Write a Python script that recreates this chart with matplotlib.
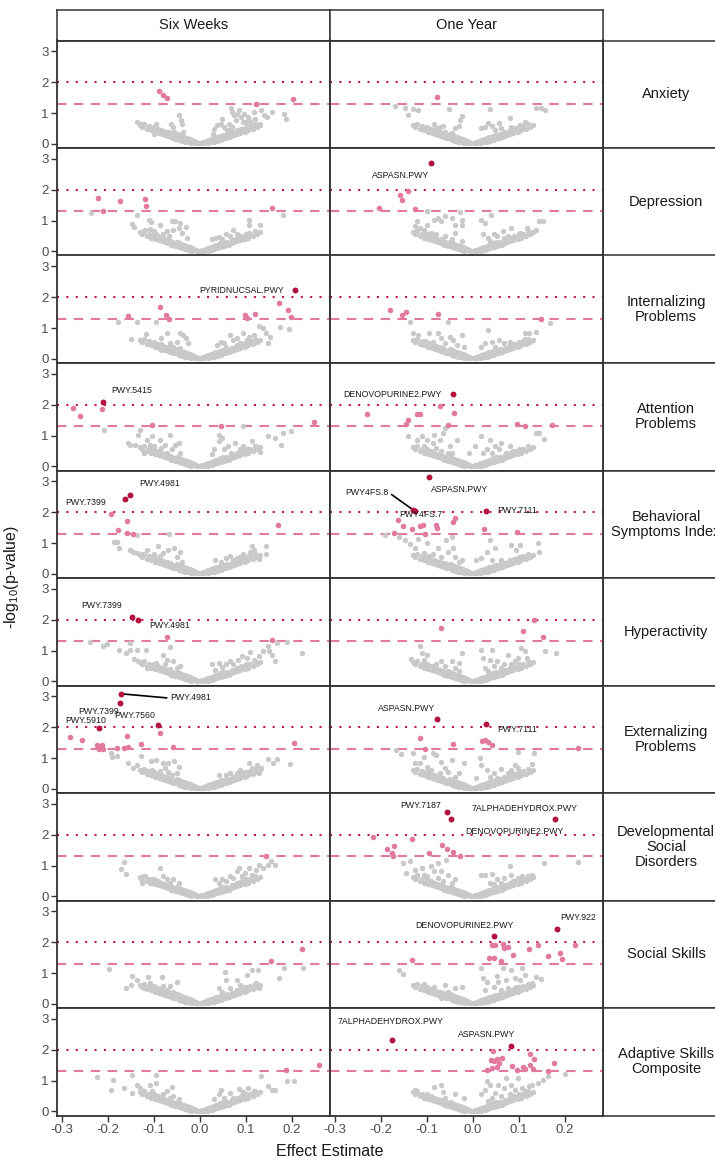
import matplotlib.pyplot as plt
import numpy as np

plt.rcParams['font.family'] = ['Liberation Sans', 'DejaVu Sans']
plt.rcParams['mathtext.default'] = 'regular'

OUTCOMES = ['Anxiety', 'Depression', 'Internalizing\nProblems', 'Attention\nProblems',
            'Behavioral\nSymptoms Index', 'Hyperactivity', 'Externalizing\nProblems',
            'Developmental\nSocial\nDisorders', 'Social Skills', 'Adaptive Skills\nComposite']
TIMEPOINTS = ['Six Weeks', 'One Year']
X_TICKS = [-0.3, -0.2, -0.1, 0.0, 0.1, 0.2]
Y_TICKS = [0, 1, 2, 3]
P_CUTS = [0.05, 0.01]

# dense bottom of the V, common to every panel
V_CORE = [(-0.065, 0.34), (-0.06, 0.30), (-0.055, 0.26), (-0.05, 0.32), (-0.048, 0.22), (-0.045, 0.28),
          (-0.042, 0.18), (-0.04, 0.25), (-0.036, 0.16), (-0.034, 0.22), (-0.03, 0.14), (-0.028, 0.19),
          (-0.025, 0.10), (-0.022, 0.15), (-0.02, 0.08), (-0.017, 0.12), (-0.015, 0.05), (-0.012, 0.09),
          (-0.01, 0.04), (-0.007, 0.06), (-0.005, 0.02), (-0.003, 0.03), (0.003, 0.02), (0.005, 0.04),
          (0.008, 0.06), (0.01, 0.03), (0.013, 0.09), (0.015, 0.06), (0.018, 0.12), (0.02, 0.08),
          (0.024, 0.15), (0.026, 0.10), (0.03, 0.19), (0.033, 0.13), (0.036, 0.22), (0.04, 0.17),
          (0.043, 0.27), (0.046, 0.20), (0.05, 0.30), (0.055, 0.24), (0.06, 0.32), (0.065, 0.28),
          (-0.07, 0.38), (0.07, 0.36), (-0.08, 0.42), (0.08, 0.45), (-0.09, 0.50), (0.09, 0.50),
          (-0.13, 0.62), (-0.125, 0.55), (-0.12, 0.66), (-0.115, 0.50), (-0.11, 0.58), (-0.105, 0.45),
          (-0.10, 0.55), (-0.098, 0.40), (-0.093, 0.48), (-0.088, 0.36), (-0.085, 0.45), (-0.082, 0.33),
          (-0.078, 0.40), (-0.075, 0.30), (-0.072, 0.36), (-0.068, 0.27), (-0.063, 0.22), (-0.058, 0.20),
          (-0.053, 0.18), (-0.046, 0.13), (-0.038, 0.10), (-0.032, 0.07), (-0.026, 0.05), (-0.018, 0.03),
          (0.018, 0.03), (0.026, 0.05), (0.032, 0.07), (0.038, 0.10), (0.046, 0.13), (0.053, 0.18),
          (0.058, 0.20), (0.063, 0.22), (0.068, 0.27), (0.072, 0.36), (0.075, 0.30), (0.078, 0.40),
          (0.082, 0.33), (0.085, 0.45), (0.088, 0.36), (0.093, 0.48), (0.098, 0.40), (0.10, 0.55),
          (0.105, 0.45), (0.11, 0.58), (0.115, 0.50), (0.12, 0.66), (0.125, 0.55), (0.13, 0.62)]

# ---- Anxiety
ANX_W6_GREY = [(-0.136, 0.71), (-0.128, 0.66), (-0.094, 0.64), (-0.097, 0.55), (-0.095, 0.39), (-0.099, 0.33),
               (-0.088, 0.39), (-0.081, 0.42), (-0.078, 0.33), (-0.074, 0.28), (-0.067, 0.39), (-0.062, 0.64),
               (-0.059, 0.55), (-0.056, 0.40), (-0.052, 0.28), (-0.054, 0.17), (-0.045, 0.93), (-0.041, 0.79),
               (-0.038, 0.66), (-0.036, 0.39), (0.028, 0.33), (0.031, 0.49), (0.038, 0.60), (0.046, 0.66),
               (0.049, 0.82), (0.053, 0.55), (0.060, 0.44), (0.064, 0.66), (0.067, 1.15), (0.071, 1.04),
               (0.075, 0.93), (0.078, 0.77), (0.082, 0.98), (0.086, 1.09), (0.089, 0.87), (0.093, 0.71),
               (0.096, 0.98), (0.104, 0.87), (0.107, 0.55), (0.114, 0.60), (0.118, 1.04), (0.125, 1.28),
               (0.133, 1.09), (0.140, 0.93), (0.147, 0.87), (0.158, 1.04), (0.183, 0.98), (0.187, 0.82),
               (0.075, 0.40), (0.085, 0.35), (0.12, 0.80), (0.13, 0.65), (0.095, 0.45), (0.10, 0.70),
               (0.11, 0.75), (0.065, 0.45), (0.07, 0.55)]
ANX_W6_SIG = [(-0.088, 1.72), (-0.080, 1.59), (-0.072, 1.49), (0.122, 1.31), (0.202, 1.45)]
ANX_W6_TOP = []
ANX_Y1_GREY = [(-0.169, 1.24), (-0.148, 1.15), (-0.141, 0.94), (-0.129, 1.12), (-0.118, 1.11), (-0.051, 1.13),
               (0.037, 1.12), (-0.023, 0.91), (-0.027, 0.78), (-0.084, 0.64), (-0.080, 0.51), (-0.072, 0.56),
               (-0.065, 0.59), (-0.061, 0.40), (-0.046, 0.34), (-0.038, 0.51), (-0.030, 0.59), (0.019, 0.51),
               (0.027, 0.56), (0.034, 0.67), (0.042, 0.59), (0.049, 0.45), (0.057, 0.67), (0.061, 0.51),
               (0.068, 0.40), (0.080, 0.83), (0.084, 0.56), (0.095, 0.51), (0.103, 0.61), (0.114, 0.70),
               (0.137, 1.17), (0.148, 1.15), (0.158, 1.11), (0.076, 0.34), (-0.068, 0.34)]
ANX_Y1_SIG = [(-0.078, 1.51)]
ANX_Y1_TOP = []

# ---- Depression
DEP_W6_GREY = [(-0.236, 1.25), (0.181, 1.18), (-0.148, 0.89), (-0.142, 0.79), (-0.137, 1.19), (-0.125, 0.62),
               (-0.118, 0.68), (-0.110, 1.03), (-0.105, 0.95), (-0.109, 0.73), (-0.099, 0.66), (-0.095, 0.55),
               (-0.087, 0.87), (-0.080, 0.55), (-0.072, 0.66), (-0.066, 0.50), (-0.061, 1.00), (-0.053, 1.00),
               (-0.057, 0.71), (-0.046, 0.76), (-0.042, 0.93), (-0.038, 0.60), (-0.030, 0.79), (-0.027, 0.44),
               (0.027, 0.39), (0.034, 0.44), (0.042, 0.46), (0.049, 0.39), (0.057, 0.55), (0.065, 0.50),
               (0.072, 0.71), (0.080, 0.55), (0.087, 0.44), (0.091, 0.39), (0.106, 1.03), (0.108, 0.87),
               (0.107, 0.60), (0.130, 0.87), (-0.095, 0.44), (-0.080, 0.39), (-0.065, 0.33), (-0.049, 0.28)]
DEP_W6_SIG = [(-0.222, 1.73), (-0.211, 1.32), (-0.173, 1.64), (-0.119, 1.71), (-0.117, 1.47), (0.157, 1.42)]
DEP_W6_TOP = []
DEP_Y1_GREY = [(-0.099, 1.30), (-0.027, 1.27), (0.040, 1.17), (-0.122, 1.00), (-0.125, 0.82), (-0.114, 0.76),
               (-0.106, 0.71), (-0.099, 0.87), (-0.084, 1.03), (-0.076, 1.09), (-0.068, 0.98), (-0.061, 1.14),
               (-0.046, 1.09), (-0.038, 0.87), (-0.023, 1.03), (-0.023, 0.87), (-0.091, 0.60), (-0.080, 0.55),
               (-0.061, 0.50), (-0.038, 0.60), (-0.046, 0.39), (-0.023, 0.33), (0.019, 1.03), (0.027, 0.93),
               (0.023, 0.55), (0.034, 0.44), (0.046, 0.55), (0.053, 0.50), (0.065, 0.66), (0.068, 0.44),
               (0.076, 0.50), (0.084, 0.76), (0.087, 0.39), (0.103, 0.60), (0.118, 0.76), (0.137, 0.71),
               (0.144, 0.98), (0.152, 0.98), (0.038, 0.33), (0.061, 0.28), (-0.068, 0.39)]
DEP_Y1_SIG = [(-0.157, 1.82), (-0.141, 1.95), (-0.154, 1.67), (-0.204, 1.40), (-0.125, 1.36)]
DEP_Y1_TOP = [('ASPASN.PWY', -0.090, 2.85)]

# ---- Internalizing Problems
INT_W6_GREY = [(-0.177, 1.21), (-0.137, 1.21), (-0.095, 1.21), (-0.150, 0.64), (-0.116, 0.80), (-0.084, 0.67),
               (-0.084, 0.48), (-0.084, 0.29), (-0.072, 0.83), (-0.065, 0.51), (-0.057, 0.40), (-0.042, 0.83),
               (-0.036, 0.78), (-0.030, 0.67), (-0.025, 0.51), (0.038, 0.45), (0.046, 0.56), (0.053, 0.51),
               (0.065, 0.78), (0.072, 0.61), (0.080, 0.67), (0.087, 0.51), (0.095, 0.83), (0.103, 0.61),
               (0.106, 0.72), (0.110, 0.59), (0.118, 0.78), (0.129, 1.07), (0.137, 0.99), (0.144, 0.83),
               (0.148, 0.53), (0.152, 0.72), (0.175, 1.04), (0.195, 0.97), (-0.049, 0.56), (-0.042, 0.34),
               (-0.065, 0.24), (0.057, 0.40), (0.072, 0.34)]
INT_W6_SIG = [(-0.086, 1.69), (-0.074, 1.42), (-0.067, 1.31), (-0.156, 1.39), (0.099, 1.41), (0.103, 1.33),
              (0.120, 1.47), (0.173, 1.80), (0.192, 1.58), (0.199, 1.37)]
INT_W6_TOP = [('PYRIDNUCSAL.PWY', 0.206, 2.23)]
INT_Y1_GREY = [(-0.137, 1.21), (-0.129, 0.83), (-0.118, 0.78), (-0.103, 0.59), (-0.095, 0.83), (-0.087, 0.56),
               (-0.076, 0.83), (-0.068, 0.67), (-0.061, 0.51), (-0.053, 1.21), (-0.049, 0.72), (-0.042, 0.61),
               (-0.034, 0.45), (-0.023, 0.78), (-0.019, 0.40), (0.019, 0.40), (0.027, 0.51), (0.034, 0.94),
               (0.042, 0.56), (0.049, 0.40), (0.057, 0.61), (0.068, 0.53), (0.080, 0.56), (0.084, 0.45),
               (0.114, 0.83), (0.114, 0.64), (0.123, 0.85), (0.137, 0.88), (0.167, 1.17)]
INT_Y1_SIG = [(-0.180, 1.58), (-0.154, 1.44), (-0.144, 1.51), (-0.076, 1.46), (0.148, 1.30)]
INT_Y1_TOP = []

# ---- Attention Problems
ATT_W6_GREY = [(-0.208, 1.19), (-0.156, 0.76), (-0.152, 0.68), (-0.141, 0.71), (-0.129, 1.19), (-0.133, 1.03),
               (-0.125, 0.55), (-0.122, 0.44), (-0.114, 0.87), (-0.109, 0.71), (-0.103, 0.98), (-0.099, 0.66),
               (-0.095, 0.50), (-0.087, 0.87), (-0.084, 0.60), (-0.076, 0.71), (-0.072, 0.44), (-0.065, 1.03),
               (-0.061, 0.55), (-0.053, 0.71), (-0.046, 0.76), (-0.042, 0.44), (0.027, 0.39), (0.030, 0.55),
               (0.042, 1.03), (0.042, 0.82), (0.049, 0.93), (0.053, 0.55), (0.061, 0.66), (0.068, 0.44),
               (0.076, 0.76), (0.087, 0.55), (0.095, 1.30), (0.095, 0.66), (0.106, 0.55), (0.114, 0.82),
               (0.122, 0.66), (0.132, 0.46), (0.148, 1.00), (0.163, 0.93), (0.176, 0.71), (0.181, 1.09),
               (0.198, 1.14)]
ATT_W6_SIG = [(-0.275, 1.89), (-0.212, 1.86), (-0.259, 1.63), (-0.104, 1.35), (0.046, 1.30), (0.249, 1.44)]
ATT_W6_TOP = [('PWY.5415', -0.211, 2.09)]
ATT_Y1_GREY = [(-0.141, 0.98), (-0.122, 0.87), (-0.110, 0.98), (-0.106, 0.66), (-0.099, 0.87), (-0.087, 0.76),
               (-0.084, 1.03), (-0.080, 0.60), (-0.072, 0.87), (-0.068, 0.50), (-0.065, 1.09), (-0.061, 1.25),
               (-0.049, 0.66), (-0.046, 0.44), (-0.034, 0.87), (0.019, 0.98), (0.023, 0.44), (0.030, 0.55),
               (0.038, 0.87), (0.042, 0.44), (0.049, 0.66), (0.057, 0.55), (0.061, 0.76), (0.072, 0.44),
               (0.080, 0.66), (0.084, 0.39), (0.087, 0.50), (0.137, 1.09), (0.144, 1.09), (0.154, 0.90),
               (0.004, 0.66), (-0.008, 0.44), (-0.053, 0.44)]
ATT_Y1_SIG = [(-0.230, 1.69), (-0.141, 1.49), (-0.146, 1.36), (-0.122, 1.71), (-0.114, 1.71), (-0.071, 1.95),
              (-0.040, 1.73), (-0.053, 1.35), (0.096, 1.38), (0.113, 1.31), (0.173, 1.33)]
ATT_Y1_TOP = [('DENOVOPURINE2.PWY', -0.043, 2.36)]

# ---- Behavioral Symptoms Index
BSI_W6_GREY = [(-0.186, 1.02), (-0.179, 1.02), (-0.175, 0.83), (-0.137, 1.26), (-0.152, 0.78), (-0.144, 0.72),
               (-0.137, 0.67), (-0.125, 0.64), (-0.114, 0.78), (-0.110, 0.59), (-0.099, 0.64), (-0.091, 0.91),
               (-0.087, 0.59), (-0.080, 0.67), (-0.068, 0.78), (-0.066, 1.28), (-0.056, 0.83), (-0.049, 0.56),
               (-0.042, 0.72), (-0.038, 0.40), (0.046, 0.40), (0.057, 0.51), (0.065, 0.59), (0.072, 0.45),
               (0.080, 0.53), (0.087, 0.56), (0.095, 0.64), (0.103, 0.56), (0.110, 0.72), (0.114, 0.89),
               (0.118, 0.78), (0.129, 0.48), (0.144, 0.91), (0.144, 0.64), (-0.080, 0.40), (-0.065, 0.34),
               (-0.049, 0.29), (0.034, 0.45), (0.049, 0.29)]
BSI_W6_SIG = [(-0.192, 1.94), (-0.159, 1.72), (-0.177, 1.42), (-0.157, 1.33), (-0.146, 1.31), (0.170, 1.58)]
BSI_W6_TOP = [('PWY.7399', -0.162, 2.44), ('PWY.4981', -0.152, 2.57)]
BSI_Y1_GREY = [(-0.190, 1.26), (-0.160, 1.21), (-0.148, 1.10), (-0.137, 0.96), (-0.125, 0.83), (-0.118, 1.13),
               (-0.106, 0.67), (-0.099, 0.99), (-0.095, 0.59), (-0.087, 0.64), (-0.076, 0.83), (-0.068, 0.56),
               (-0.057, 1.10), (-0.053, 0.72), (-0.046, 1.21), (-0.042, 0.83), (-0.038, 0.56), (-0.030, 0.40),
               (-0.023, 0.45), (0.019, 0.51), (0.030, 0.72), (0.038, 1.10), (0.042, 0.45), (0.049, 0.83),
               (0.061, 0.45), (0.080, 0.45), (0.084, 0.94), (0.095, 0.78), (0.103, 0.56), (0.103, 0.94),
               (0.141, 0.99), (0.144, 0.70), (0.008, 0.45), (-0.061, 0.34), (0.046, 0.24)]
BSI_Y1_SIG = [(-0.163, 1.74), (-0.152, 1.56), (-0.131, 1.47), (-0.114, 1.56), (-0.109, 1.60), (-0.104, 1.31),
              (-0.080, 1.58), (-0.078, 1.50), (-0.042, 1.69), (-0.038, 1.80), (0.024, 1.45), (0.097, 1.37),
              (-0.171, 1.33)]
BSI_Y1_TOP = [('ASPASN.PWY', -0.094, 3.15), ('PWY4FS.8', -0.129, 2.07), ('PWY4FS.7', -0.126, 2.05),
              ('PWY.7111', 0.029, 2.03)]

# ---- Hyperactivity
HYP_W6_GREY = [(-0.238, 1.27), (-0.211, 1.16), (-0.202, 1.22), (-0.175, 1.03), (-0.160, 0.93), (-0.152, 1.25),
               (-0.152, 1.03), (-0.137, 1.03), (-0.142, 0.74), (-0.133, 0.66), (-0.128, 0.60), (-0.116, 1.03),
               (-0.114, 0.44), (-0.103, 0.50), (-0.095, 0.60), (-0.087, 0.44), (-0.080, 0.87), (-0.076, 0.55),
               (-0.065, 1.12), (-0.072, 0.71), (-0.057, 0.66), (-0.049, 0.44), (-0.042, 0.50), (0.034, 0.36),
               (0.042, 0.60), (0.049, 0.46), (0.057, 0.55), (0.065, 0.66), (0.072, 0.55), (0.084, 0.71),
               (0.091, 0.82), (0.103, 0.76), (0.109, 0.95), (0.118, 0.71), (0.129, 0.82), (0.137, 0.98),
               (0.148, 1.14), (0.150, 0.98), (0.156, 0.87), (0.163, 0.66), (0.167, 1.25), (0.190, 1.27),
               (0.222, 0.93), (0.027, 0.55), (-0.065, 0.39)]
HYP_W6_SIG = [(-0.072, 1.44), (0.157, 1.35)]
HYP_W6_TOP = [('PWY.7399', -0.148, 2.08), ('PWY.4981', -0.135, 2.00)]
HYP_Y1_GREY = [(-0.135, 0.74), (-0.114, 1.14), (-0.110, 0.93), (-0.106, 0.71), (-0.099, 0.87), (-0.087, 0.50),
               (-0.080, 0.55), (-0.068, 0.66), (-0.061, 0.50), (-0.053, 0.33), (-0.046, 0.66), (-0.038, 0.44),
               (-0.030, 0.33), (-0.023, 0.93), (0.019, 1.03), (0.023, 0.76), (0.027, 0.44), (0.038, 0.71),
               (0.042, 1.03), (0.046, 0.50), (0.053, 0.66), (0.061, 0.44), (0.068, 0.55), (0.076, 0.87),
               (0.084, 0.55), (0.091, 0.66), (0.099, 0.76), (0.105, 1.09), (0.114, 0.98), (0.118, 0.76),
               (0.158, 0.98), (0.181, 0.93), (-0.030, 0.60), (0.034, 0.33)]
HYP_Y1_SIG = [(-0.068, 1.72), (0.110, 1.65), (0.133, 1.98), (0.152, 1.45)]
HYP_Y1_TOP = []

# ---- Externalizing Problems
EXT_W6_GREY = [(-0.192, 1.17), (-0.190, 1.04), (-0.179, 1.07), (-0.156, 0.83), (-0.144, 0.67), (-0.137, 0.78),
               (-0.127, 1.07), (-0.125, 0.61), (-0.114, 0.59), (-0.106, 0.89), (-0.104, 0.61), (-0.095, 0.94),
               (-0.087, 0.59), (-0.080, 0.83), (-0.076, 0.67), (-0.068, 0.85), (-0.068, 0.56), (-0.061, 0.45),
               (-0.056, 0.91), (-0.049, 0.51), (-0.046, 0.72), (0.046, 0.29), (0.057, 0.45), (0.065, 0.51),
               (0.072, 0.40), (0.080, 0.53), (0.087, 0.61), (0.099, 0.56), (0.106, 0.83), (0.114, 0.67),
               (0.125, 0.78), (0.129, 0.51), (0.133, 0.67), (0.148, 0.96), (0.160, 0.85), (0.167, 0.96),
               (0.196, 0.80), (0.042, 0.45)]
EXT_W6_SIG = [(-0.281, 1.69), (-0.255, 1.60), (-0.224, 1.44), (-0.213, 1.41), (-0.218, 1.28), (-0.209, 1.28),
              (-0.180, 1.33), (-0.164, 1.33), (-0.156, 1.37), (-0.159, 1.72), (-0.127, 1.47), (-0.087, 1.82),
              (-0.059, 1.37), (0.204, 1.50)]
EXT_W6_TOP = [('PWY.4981', -0.170, 3.08), ('PWY.7399', -0.173, 2.77), ('PWY.5910', -0.218, 1.98),
              ('PWY.7560', -0.090, 2.08)]
EXT_Y1_GREY = [(-0.167, 1.26), (-0.156, 1.13), (-0.129, 1.15), (-0.125, 0.83), (-0.114, 0.83), (-0.106, 1.04),
               (-0.099, 0.72), (-0.091, 0.61), (-0.087, 1.15), (-0.080, 1.10), (-0.072, 0.51), (-0.068, 0.88),
               (-0.061, 0.67), (-0.053, 0.56), (-0.046, 0.94), (-0.038, 0.40), (-0.030, 0.51), (-0.019, 0.83),
               (0.015, 0.99), (0.019, 0.78), (0.030, 0.61), (0.038, 0.40), (0.046, 0.51), (0.053, 0.34),
               (0.061, 0.64), (0.068, 0.40), (0.076, 0.51), (0.084, 0.61), (0.091, 0.78), (0.099, 0.67),
               (0.106, 0.51), (0.128, 0.80), (0.133, 1.17), (0.099, 1.21), (0.008, 0.34)]
EXT_Y1_SIG = [(-0.114, 1.64), (-0.103, 1.30), (-0.043, 1.47), (0.021, 1.55), (0.027, 1.58), (0.033, 1.53),
              (0.042, 1.44), (0.228, 1.32)]
EXT_Y1_TOP = [('ASPASN.PWY', -0.078, 2.25), ('PWY.7111', 0.029, 2.11)]

# ---- Developmental Social Disorders
DSD_W6_GREY = [(-0.171, 0.89), (-0.165, 1.13), (-0.160, 0.74), (-0.127, 0.55), (-0.125, 0.44), (-0.118, 0.66),
               (-0.109, 0.44), (-0.103, 0.55), (-0.095, 0.39), (-0.086, 0.93), (-0.080, 0.66), (-0.072, 0.55),
               (-0.065, 0.44), (-0.057, 0.55), (-0.046, 0.44), (0.042, 0.44), (0.049, 0.55), (0.057, 0.50),
               (0.065, 0.66), (0.072, 0.60), (0.080, 0.82), (0.086, 0.93), (0.091, 0.66), (0.099, 0.76),
               (0.106, 0.93), (0.114, 0.71), (0.122, 0.87), (0.129, 1.03), (0.137, 0.93), (0.148, 1.03),
               (0.154, 1.14), (0.164, 1.03), (0.034, 0.55)]
DSD_W6_SIG = [(0.144, 1.30)]
DSD_W6_TOP = []
DSD_Y1_GREY = [(-0.152, 1.09), (-0.137, 1.14), (-0.125, 0.87), (-0.122, 0.71), (-0.110, 0.93), (-0.106, 0.71),
               (-0.099, 0.66), (-0.091, 0.98), (-0.084, 0.82), (-0.076, 1.09), (-0.076, 0.60), (-0.068, 0.82),
               (-0.065, 0.50), (-0.057, 1.19), (-0.053, 0.71), (-0.046, 0.44), (-0.038, 0.55), (0.019, 0.68),
               (0.027, 0.71), (0.042, 0.74), (0.046, 0.39), (0.053, 0.55), (0.061, 0.44), (0.068, 0.60),
               (0.080, 1.00), (0.084, 0.71), (0.087, 0.50), (0.099, 0.60), (0.106, 0.66), (0.118, 0.55),
               (0.128, 0.68), (0.154, 1.09), (0.228, 1.13), (-0.144, 0.76), (0.038, 0.44)]
DSD_Y1_SIG = [(-0.217, 1.92), (-0.132, 1.86), (-0.171, 1.63), (-0.186, 1.55), (-0.175, 1.41), (-0.173, 1.32),
              (-0.095, 1.41), (-0.066, 1.66), (-0.055, 1.55), (-0.043, 1.44), (-0.028, 1.31)]
DSD_Y1_TOP = [('PWY.7187', -0.056, 2.72), ('DENOVOPURINE2.PWY', -0.047, 2.51),
              ('7ALPHADEHYDROX.PWY', 0.178, 2.51)]

# ---- Social Skills
SOC_W6_GREY = [(-0.198, 1.13), (-0.160, 0.53), (-0.150, 0.61), (-0.148, 0.91), (-0.137, 0.78), (-0.127, 0.59),
               (-0.122, 0.51), (-0.112, 0.88), (-0.109, 0.67), (-0.099, 0.59), (-0.091, 0.51), (-0.081, 0.88),
               (-0.080, 0.59), (-0.072, 0.45), (-0.065, 0.59), (-0.057, 0.40), (-0.049, 0.72), (0.042, 0.51),
               (0.049, 0.40), (0.056, 1.04), (0.057, 0.78), (0.065, 0.51), (0.072, 0.34), (0.080, 0.78),
               (0.087, 0.61), (0.095, 0.56), (0.103, 0.94), (0.110, 0.56), (0.114, 1.10), (0.122, 0.67),
               (0.127, 1.10), (0.129, 0.51), (0.172, 0.83), (0.184, 1.17), (0.224, 1.17)]
SOC_W6_SIG = [(0.222, 1.78), (0.154, 1.38)]
SOC_W6_TOP = []
SOC_Y1_GREY = [(-0.160, 1.10), (-0.152, 0.98), (-0.110, 0.56), (-0.105, 0.65), (-0.084, 0.56), (-0.072, 0.29),
               (-0.061, 0.61), (-0.053, 0.40), (-0.038, 0.51), (0.019, 1.15), (0.023, 0.83), (0.027, 0.45),
               (0.032, 0.72), (0.046, 0.56), (0.053, 0.91), (0.055, 0.72), (0.061, 0.45), (0.065, 1.15),
               (0.072, 0.78), (0.076, 0.51), (0.084, 1.10), (0.091, 0.83), (0.095, 0.56), (0.103, 0.78),
               (0.106, 1.15), (0.114, 0.94), (0.122, 0.61), (0.129, 0.67), (0.137, 0.88), (0.148, 0.81),
               (-0.023, 0.56), (0.068, 0.29), (-0.068, 0.18)]
SOC_Y1_SIG = [(-0.131, 1.41), (0.036, 1.50), (0.046, 1.50), (0.049, 1.91), (0.042, 1.91), (0.065, 1.93),
              (0.067, 1.80), (0.076, 1.85), (0.061, 1.39), (0.087, 1.57), (0.122, 1.78), (0.142, 1.92),
              (0.163, 1.55), (0.189, 1.66), (0.193, 1.45), (0.222, 1.91)]
SOC_Y1_TOP = [('DENOVOPURINE2.PWY', 0.047, 2.19), ('PWY.922', 0.184, 2.43)]

# ---- Adaptive Skills Composite
ADA_W6_GREY = [(-0.224, 1.11), (-0.188, 1.03), (-0.148, 1.19), (-0.192, 0.69), (-0.164, 0.76), (-0.148, 0.60),
               (-0.137, 0.87), (-0.129, 0.76), (-0.118, 0.55), (-0.109, 0.85), (-0.103, 0.66), (-0.095, 1.19),
               (-0.095, 0.93), (-0.087, 0.44), (-0.080, 0.55), (-0.072, 0.66), (-0.061, 0.79), (-0.057, 0.50),
               (-0.046, 0.39), (0.030, 0.39), (0.042, 0.55), (0.046, 0.71), (0.053, 0.44), (0.065, 0.60),
               (0.072, 0.44), (0.086, 0.74), (0.095, 0.64), (0.104, 0.77), (0.118, 0.66), (0.133, 1.14),
               (0.148, 0.84), (0.157, 0.71), (0.163, 0.71), (0.190, 1.00), (0.205, 1.00), (-0.065, 0.44)]
ADA_W6_SIG = [(0.260, 1.52), (0.188, 1.33)]
ADA_W6_TOP = []
ADA_Y1_GREY = [(-0.125, 0.71), (-0.122, 0.62), (-0.103, 0.46), (-0.084, 0.79), (-0.065, 0.62), (-0.061, 0.44),
               (-0.038, 0.55), (-0.019, 0.44), (0.019, 0.55), (0.027, 0.71), (0.032, 1.00), (0.038, 0.87),
               (0.042, 0.44), (0.049, 0.60), (0.055, 0.87), (0.061, 0.50), (0.068, 0.76), (0.072, 1.09),
               (0.080, 0.55), (0.084, 0.87), (0.091, 0.71), (0.099, 1.09), (0.106, 0.76), (0.114, 0.66),
               (0.122, 0.82), (0.129, 0.87), (0.141, 0.93), (0.152, 1.03), (0.163, 1.14), (0.200, 1.22),
               (0.034, 0.33), (0.061, 0.28), (-0.068, 0.87)]
ADA_Y1_SIG = [(0.044, 1.95), (0.040, 1.68), (0.046, 1.63), (0.052, 1.71), (0.063, 1.73), (0.057, 1.56),
              (0.042, 1.41), (0.052, 1.43), (0.030, 1.35), (0.085, 1.48), (0.097, 1.35), (0.109, 1.43),
              (0.113, 1.37), (0.125, 1.50), (0.125, 1.87), (0.133, 1.71), (0.177, 1.57), (0.163, 1.32),
              (0.132, 1.36)]
ADA_Y1_TOP = [('7ALPHADEHYDROX.PWY', -0.175, 2.30), ('ASPASN.PWY', 0.084, 2.12)]

PANELS = [
    [(ANX_W6_GREY, ANX_W6_SIG, ANX_W6_TOP), (ANX_Y1_GREY, ANX_Y1_SIG, ANX_Y1_TOP)],
    [(DEP_W6_GREY, DEP_W6_SIG, DEP_W6_TOP), (DEP_Y1_GREY, DEP_Y1_SIG, DEP_Y1_TOP)],
    [(INT_W6_GREY, INT_W6_SIG, INT_W6_TOP), (INT_Y1_GREY, INT_Y1_SIG, INT_Y1_TOP)],
    [(ATT_W6_GREY, ATT_W6_SIG, ATT_W6_TOP), (ATT_Y1_GREY, ATT_Y1_SIG, ATT_Y1_TOP)],
    [(BSI_W6_GREY, BSI_W6_SIG, BSI_W6_TOP), (BSI_Y1_GREY, BSI_Y1_SIG, BSI_Y1_TOP)],
    [(HYP_W6_GREY, HYP_W6_SIG, HYP_W6_TOP), (HYP_Y1_GREY, HYP_Y1_SIG, HYP_Y1_TOP)],
    [(EXT_W6_GREY, EXT_W6_SIG, EXT_W6_TOP), (EXT_Y1_GREY, EXT_Y1_SIG, EXT_Y1_TOP)],
    [(DSD_W6_GREY, DSD_W6_SIG, DSD_W6_TOP), (DSD_Y1_GREY, DSD_Y1_SIG, DSD_Y1_TOP)],
    [(SOC_W6_GREY, SOC_W6_SIG, SOC_W6_TOP), (SOC_Y1_GREY, SOC_Y1_SIG, SOC_Y1_TOP)],
    [(ADA_W6_GREY, ADA_W6_SIG, ADA_W6_TOP), (ADA_Y1_GREY, ADA_Y1_SIG, ADA_Y1_TOP)],
]

# where each label text sits (row, col, name) -> (x, y, leader line end or None)
LABEL_SPOTS = {
    (1, 1, 'ASPASN.PWY'): (-0.156, 2.46, None),
    (2, 0, 'PYRIDNUCSAL.PWY'): (0.092, 2.23, None),
    (3, 0, 'PWY.5415'): (-0.148, 2.46, None),
    (3, 1, 'DENOVOPURINE2.PWY'): (-0.174, 2.33, None),
    (4, 0, 'PWY.4981'): (-0.087, 2.93, None),
    (4, 0, 'PWY.7399'): (-0.247, 2.30, None),
    (4, 1, 'ASPASN.PWY'): (-0.028, 2.74, None),
    (4, 1, 'PWY4FS.8'): (-0.230, 2.63, (-0.176, 2.57)),
    (4, 1, 'PWY4FS.7'): (-0.112, 1.94, None),
    (4, 1, 'PWY.7111'): (0.096, 2.05, None),
    (5, 0, 'PWY.7399'): (-0.213, 2.45, None),
    (5, 0, 'PWY.4981'): (-0.066, 1.82, None),
    (6, 0, 'PWY.4981'): (-0.020, 2.95, (-0.072, 2.95)),
    (6, 0, 'PWY.7399'): (-0.220, 2.51, None),
    (6, 0, 'PWY.5910'): (-0.247, 2.23, None),
    (6, 0, 'PWY.7560'): (-0.142, 2.37, None),
    (6, 1, 'ASPASN.PWY'): (-0.144, 2.60, None),
    (6, 1, 'PWY.7111'): (0.096, 1.93, None),
    (7, 1, 'PWY.7187'): (-0.114, 2.95, None),
    (7, 1, '7ALPHADEHYDROX.PWY'): (0.112, 2.86, None),
    (7, 1, 'DENOVOPURINE2.PWY'): (0.091, 2.09, None),
    (8, 1, 'DENOVOPURINE2.PWY'): (-0.018, 2.55, None),
    (8, 1, 'PWY.922'): (0.229, 2.79, None),
    (9, 1, '7ALPHADEHYDROX.PWY'): (-0.179, 2.92, None),
    (9, 1, 'ASPASN.PWY'): (0.031, 2.49, None),
}

W, H = 715, 1163
GREY = '#C9C9C9'
PINK = '#E27A9F'
DARK = '#B3123F'
DOT_LINE = '#C2174D'
EDGE = '#333333'


def px_axes(fig, x0, y0, w, h):
    return fig.add_axes([x0 / W, 1 - (y0 + h) / H, w / W, h / H])


def strip_box(ax, text):
    ax.set_xticks([])
    ax.set_yticks([])
    for s in ax.spines.values():
        s.set_color(EDGE)
        s.set_linewidth(1.1)
    ax.text(0.5, 0.5, text, transform=ax.transAxes, ha='center', va='center',
            fontsize=10.5, color='#1A1A1A', linespacing=1.1)


fig = plt.figure(figsize=(W / 100, H / 100), dpi=100)

left_x = [57, 330]
col_w = 273
row_top = 40.5
row_h = 107.5

for c, tp in enumerate(TIMEPOINTS):
    strip_box(px_axes(fig, left_x[c], 9.5, col_w, 31), tp)

for r, outcome in enumerate(OUTCOMES):
    y0 = row_top + r * row_h
    strip_box(px_axes(fig, 603, y0, 126, row_h), outcome)
    for c in range(2):
        grey, sig, top = PANELS[r][c]
        ax = px_axes(fig, left_x[c], y0, col_w, row_h)
        g = np.array(V_CORE + grey)
        ax.scatter(g[:, 0], g[:, 1], s=15, color=GREY, linewidths=0, zorder=2)
        if sig:
            p = np.array(sig)
            ax.scatter(p[:, 0], p[:, 1], s=16, color=PINK, linewidths=0, zorder=3)
        ax.axhline(-np.log10(P_CUTS[0]), color=PINK, lw=1.5, ls=(0, (4.5, 3.6)), zorder=1)
        ax.axhline(-np.log10(P_CUTS[1]), color=DOT_LINE, lw=1.5, ls=(0, (1, 3.5)), zorder=1)
        for name, tx, ty in top:
            ax.scatter([tx], [ty], s=18, color=DARK, linewidths=0, zorder=4)
            spot = LABEL_SPOTS.get((r, c, name))
            if spot is None:
                continue
            lx, ly, lead = spot
            ax.text(lx, ly, name, fontsize=6.3, ha='center', va='center', color='#1A1A1A', zorder=5)
            if lead is not None:
                ax.plot([tx, lead[0]], [ty, lead[1]], color='black', lw=1.2, zorder=3)
        ax.set_xlim(-0.31, 0.283)
        ax.set_ylim(-0.13, 3.35)
        ax.set_xticks(X_TICKS)
        ax.set_yticks(Y_TICKS)
        for s in ax.spines.values():
            s.set_color(EDGE)
            s.set_linewidth(1.3)
        ax.tick_params(length=4, width=1, color=EDGE, labelcolor='#4D4D4D', labelsize=9.5, pad=2)
        if r < len(OUTCOMES) - 1:
            ax.tick_params(axis='x', bottom=False, labelbottom=False)
        else:
            ax.set_xticklabels(['%.1f' % t for t in X_TICKS])
        if c == 1:
            ax.tick_params(axis='y', left=False, labelleft=False)

fig.text(330 / W, 1 - 1152 / H, 'Effect Estimate', ha='center', va='center', fontsize=11.5, color='#1A1A1A')
fig.text(12 / W, 1 - 577 / H, '-log$_{10}$(p-value)', ha='center', va='center', rotation=90,
         fontsize=11.5, color='#1A1A1A')

fig.savefig('out.png', dpi=100)
